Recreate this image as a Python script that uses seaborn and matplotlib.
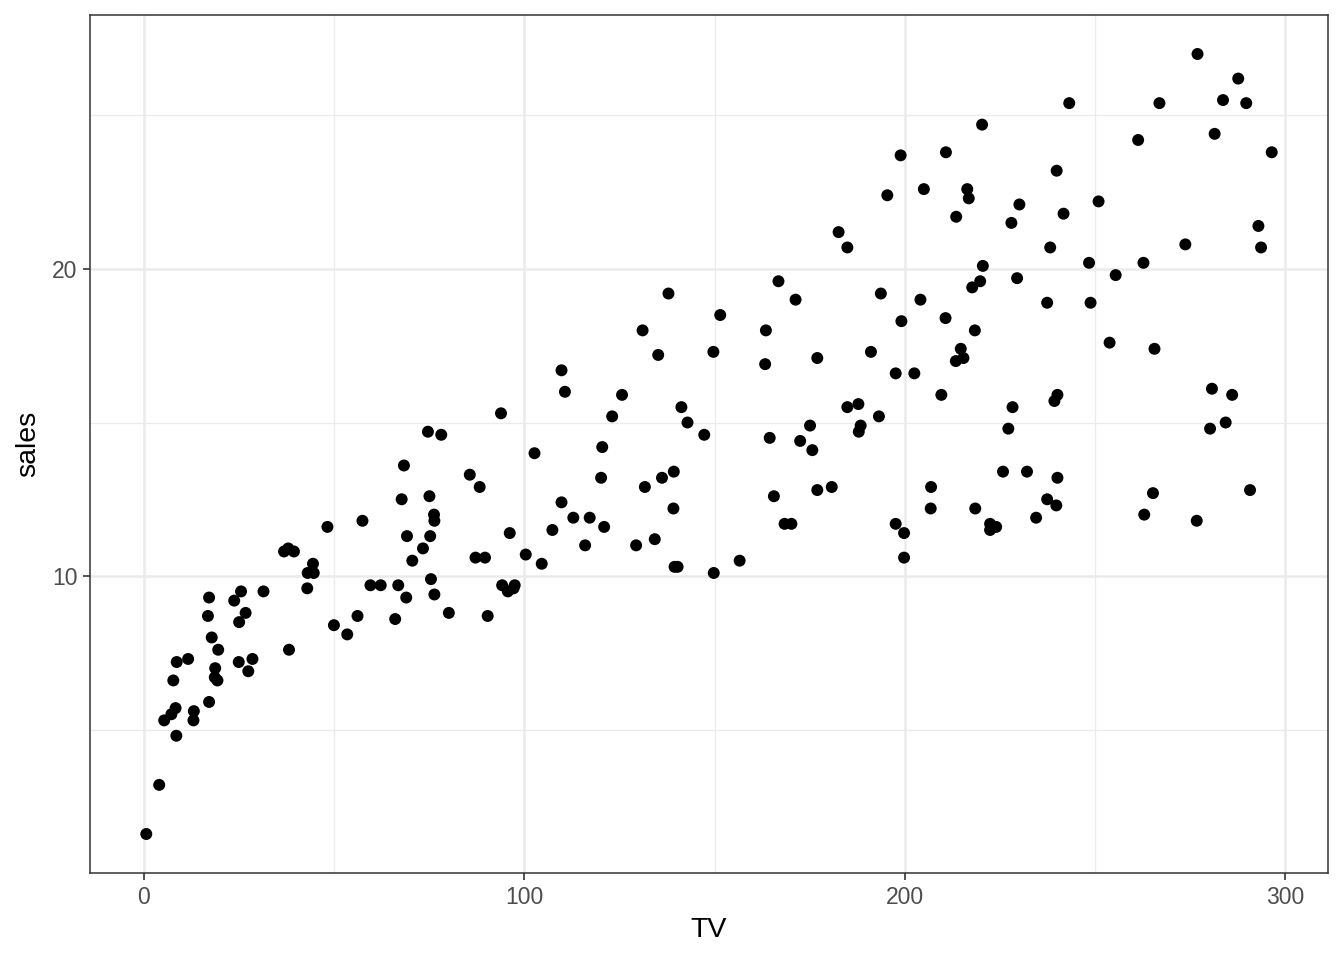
import numpy as np
import pandas as pd
import seaborn as sns
import matplotlib.pyplot as plt
from matplotlib.ticker import MultipleLocator

tv = [230.1, 44.5, 17.2, 151.5, 180.8, 8.7, 57.5, 120.2, 8.6, 199.8,
      66.1, 214.7, 23.8, 97.5, 204.1, 195.4, 67.8, 281.4, 69.2, 147.3,
      218.4, 237.4, 13.2, 228.3, 62.3, 262.9, 142.9, 240.1, 248.8, 70.6,
      292.9, 112.9, 97.2, 265.6, 95.7, 290.7, 266.9, 74.7, 43.1, 228.0,
      202.5, 177.0, 293.6, 206.9, 25.1, 175.1, 89.7, 239.9, 227.2, 66.9,
      199.8, 100.4, 216.4, 182.6, 262.7, 198.9, 7.3, 136.2, 210.8, 210.7,
      53.5, 261.3, 239.3, 102.7, 131.1, 69.0, 31.5, 139.3, 237.4, 216.8,
      199.1, 109.8, 26.8, 129.4, 213.4, 16.9, 27.5, 120.5, 5.4, 116.0,
      76.4, 239.8, 75.3, 68.4, 213.5, 193.2, 76.3, 110.7, 88.3, 109.8,
      134.3, 28.6, 217.7, 250.9, 107.4, 163.3, 197.6, 184.9, 289.7, 135.2,
      222.4, 296.4, 280.2, 187.9, 238.2, 137.9, 25.0, 90.4, 13.1, 255.4,
      225.8, 241.7, 175.7, 209.6, 78.2, 75.1, 139.2, 76.4, 125.7, 19.4,
      141.3, 18.8, 224.0, 123.1, 229.5, 87.2, 7.8, 80.2, 220.3, 59.6,
      0.7, 265.2, 8.4, 219.8, 36.9, 48.3, 25.6, 273.7, 43.0, 184.9,
      73.4, 193.7, 220.5, 104.6, 96.2, 140.3, 240.1, 243.2, 38.0, 44.7,
      280.7, 121.0, 197.6, 171.3, 187.8, 4.1, 93.9, 149.8, 11.7, 131.7,
      172.5, 85.7, 188.4, 163.5, 117.2, 234.5, 17.9, 206.8, 215.4, 284.3,
      50.0, 164.5, 19.6, 168.4, 222.4, 276.9, 248.4, 170.2, 276.7, 165.6,
      156.6, 218.5, 56.2, 287.6, 253.8, 205.0, 139.5, 191.1, 286.0, 18.7,
      39.5, 75.5, 17.2, 166.8, 149.7, 38.2, 94.2, 177.0, 283.6, 232.1]

sales = [22.1, 10.4, 9.3, 18.5, 12.9, 7.2, 11.8, 13.2, 4.8, 10.6,
         8.6, 17.4, 9.2, 9.7, 19.0, 22.4, 12.5, 24.4, 11.3, 14.6,
         18.0, 12.5, 5.6, 15.5, 9.7, 12.0, 15.0, 15.9, 18.9, 10.5,
         21.4, 11.9, 9.6, 17.4, 9.5, 12.8, 25.4, 14.7, 10.1, 21.5,
         16.6, 17.1, 20.7, 12.9, 8.5, 14.9, 10.6, 23.2, 14.8, 9.7,
         11.4, 10.7, 22.6, 21.2, 20.2, 23.7, 5.5, 13.2, 23.8, 18.4,
         8.1, 24.2, 15.7, 14.0, 18.0, 9.3, 9.5, 13.4, 18.9, 22.3,
         18.3, 12.4, 8.8, 11.0, 17.0, 8.7, 6.9, 14.2, 5.3, 11.0,
         11.8, 12.3, 11.3, 13.6, 21.7, 15.2, 12.0, 16.0, 12.9, 16.7,
         11.2, 7.3, 19.4, 22.2, 11.5, 16.9, 11.7, 15.5, 25.4, 17.2,
         11.7, 23.8, 14.8, 14.7, 20.7, 19.2, 7.2, 8.7, 5.3, 19.8,
         13.4, 21.8, 14.1, 15.9, 14.6, 12.6, 12.2, 9.4, 15.9, 6.6,
         15.5, 7.0, 11.6, 15.2, 19.7, 10.6, 6.6, 8.8, 24.7, 9.7,
         1.6, 12.7, 5.7, 19.6, 10.8, 11.6, 9.5, 20.8, 9.6, 20.7,
         10.9, 19.2, 20.1, 10.4, 11.4, 10.3, 13.2, 25.4, 10.9, 10.1,
         16.1, 11.6, 16.6, 19.0, 15.6, 3.2, 15.3, 10.1, 7.3, 12.9,
         14.4, 13.3, 14.9, 18.0, 11.9, 11.9, 8.0, 12.2, 17.1, 15.0,
         8.4, 14.5, 7.6, 11.7, 11.5, 27.0, 20.2, 11.7, 11.8, 12.6,
         10.5, 12.2, 8.7, 26.2, 17.6, 22.6, 10.3, 17.3, 15.9, 6.7,
         10.8, 9.9, 5.9, 19.6, 17.3, 7.6, 9.7, 12.8, 25.5, 13.4]

df = pd.DataFrame({"TV": tv, "sales": sales})

sns.set_theme(style="white")
plt.rcParams["font.family"] = ["Liberation Sans", "DejaVu Sans"]

fig = plt.figure(figsize=(13.44, 9.6), dpi=100)
ax = fig.add_axes([90 / 1344, 1 - 873 / 960, (1328 - 90) / 1344, (873 - 15) / 960])

#grid like theme_bw
ax.xaxis.set_major_locator(MultipleLocator(100))
ax.xaxis.set_minor_locator(MultipleLocator(50))
ax.yaxis.set_major_locator(MultipleLocator(10))
ax.yaxis.set_minor_locator(MultipleLocator(5))
ax.grid(which="major", color="#EBEBEB", linewidth=1.8)
ax.grid(which="minor", color="#EBEBEB", linewidth=0.9)
ax.set_axisbelow(True)

sns.scatterplot(data=df, x="TV", y="sales", color="black", s=74,
                edgecolor="none", ax=ax, zorder=3)

xr = max(tv) - min(tv)
yr = max(sales) - min(sales)
ax.set_xlim(min(tv) - 0.05 * xr, max(tv) + 0.05 * xr)
ax.set_ylim(min(sales) - 0.05 * yr, max(sales) + 0.05 * yr)

for sp in ax.spines.values():
    sp.set_color("#333333")
    sp.set_linewidth(1.1)

ax.tick_params(which="major", length=5, width=1.2, color="#333333",
               labelsize=16.5, labelcolor="#4D4D4D", pad=4,
               bottom=True, left=True)
ax.tick_params(which="minor", length=0)
ax.set_xlabel("TV", fontsize=20.5, color="black", labelpad=6)
ax.set_ylabel("sales", fontsize=20.5, color="black", labelpad=8)

fig.savefig("out.png", dpi=100)
plt.close(fig)
